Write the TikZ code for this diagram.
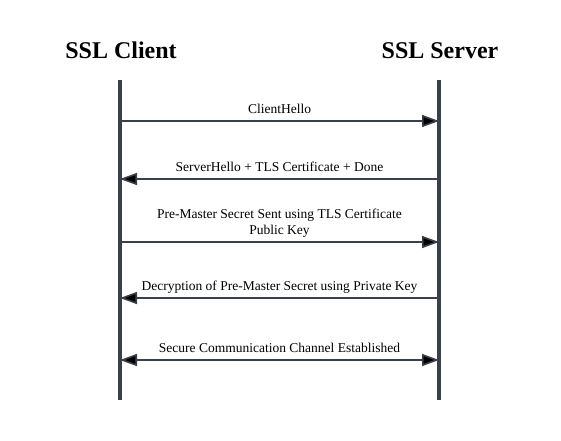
\documentclass[tikz,border=0pt]{standalone}
\usepackage{fontspec}
\setmainfont{Liberation Serif}
\usepackage{tikz}
\usetikzlibrary{arrows.meta}
\definecolor{LineGray}{RGB}{58,64,74}

\begin{document}
\begin{tikzpicture}[
  x=1pt,y=-1pt,
  title/.style={font=\bfseries\fontsize{24}{28}\selectfont,inner sep=0pt,anchor=base},
  ]
  \tikzset{%
    lifeline/.style={draw=LineGray,line width=3.2pt},
    signal/.style={
      draw=LineGray,
      line width=1.6pt,
    },
    msg/.style={
      font=\fontsize{13.5}{16.5}\selectfont,
      align=center,
      inner sep=0pt,
      anchor=base,
      yshift=7.5pt,
      midway,
    },
  }
  \useasboundingbox (0,0) rectangle (561,440);
  %Nodes
  \node[title](client) at (121,58){SSL Client};
  \node[title](server) at (440,58){SSL Server};
  \coordinate (c0) at (120,80);
  \coordinate (s0) at (439,80);
  \coordinate (c6) at (120,400);
  \coordinate (s6) at (439,400);
  \foreach \i/\y in {1/121,2/179,3/242,4/298,5/360}{
    \coordinate (c\i) at (120,\y);
    \coordinate (s\i) at (439,\y);
  }
  %Lifelines
  \draw[lifeline] (c0) -- (c6);
  \draw[lifeline] (s0) -- (s6);
  %Messages
  \draw[signal]
    (c1) edge[-{Triangle[length=17pt,width=12pt]}] node[msg]{ClientHello} (s1)
    (s2) edge[-{Triangle[length=17pt,width=12pt]}] node[msg]{ServerHello + TLS Certificate + Done} (c2)
    (c3) edge[-{Triangle[length=17pt,width=12pt]}] node[msg]{Pre-Master Secret Sent using TLS Certificate\\Public Key} (s3)
    (s4) edge[-{Triangle[length=17pt,width=12pt]}] node[msg]{Decryption of Pre-Master Secret using Private Key} (c4)
    (c5) edge[{Triangle[length=17pt,width=12pt]}-{Triangle[length=17pt,width=12pt]}] node[msg]{Secure Communication Channel Established} (s5)
    ;
\end{tikzpicture}
\end{document}
